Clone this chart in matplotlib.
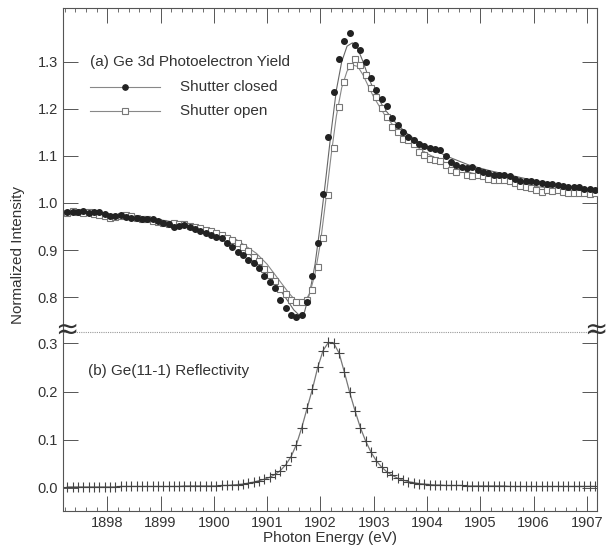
import numpy as np
import matplotlib
matplotlib.use('Agg')
import matplotlib.pyplot as plt
from matplotlib.lines import Line2D

plt.rcParams['font.family'] = ['Liberation Sans', 'DejaVu Sans']

# photon energy scan grid (eV), 0.1 eV steps
energy = np.round(1897.25 + 0.1 * np.arange(100), 2)

# (a) Ge 3d photoelectron yield, shutter closed (filled circles)
closed = [0.980, 0.981, 0.980, 0.982, 0.979, 0.981, 0.980, 0.977, 0.972, 0.973,
          0.974, 0.970, 0.969, 0.968, 0.967, 0.966, 0.965, 0.962, 0.958, 0.955,
          0.950, 0.951, 0.953, 0.949, 0.945, 0.941, 0.936, 0.932, 0.928, 0.925,
          0.915, 0.906, 0.896, 0.889, 0.879, 0.872, 0.861, 0.846, 0.832, 0.820,
          0.795, 0.778, 0.763, 0.758, 0.762, 0.790, 0.845, 0.915, 1.020, 1.140,
          1.235, 1.305, 1.345, 1.360, 1.335, 1.325, 1.300, 1.265, 1.240, 1.220,
          1.205, 1.180, 1.165, 1.150, 1.140, 1.133, 1.125, 1.120, 1.117, 1.115,
          1.112, 1.100, 1.088, 1.080, 1.076, 1.074, 1.076, 1.070, 1.066, 1.063,
          1.060, 1.059, 1.059, 1.058, 1.050, 1.046, 1.047, 1.046, 1.044, 1.042,
          1.041, 1.040, 1.038, 1.036, 1.035, 1.034, 1.033, 1.030, 1.029, 1.028]

# (a) shutter open (open squares)
opened = [0.979, 0.982, 0.981, 0.978, 0.980, 0.977, 0.975, 0.972, 0.968, 0.970,
          0.972, 0.975, 0.972, 0.969, 0.967, 0.966, 0.962, 0.959, 0.957, 0.956,
          0.957, 0.956, 0.955, 0.952, 0.950, 0.946, 0.942, 0.940, 0.937, 0.932,
          0.926, 0.922, 0.915, 0.907, 0.897, 0.886, 0.876, 0.860, 0.848, 0.835,
          0.817, 0.807, 0.795, 0.790, 0.789, 0.795, 0.815, 0.865, 0.925, 1.018,
          1.116, 1.203, 1.257, 1.291, 1.306, 1.293, 1.272, 1.244, 1.225, 1.201,
          1.183, 1.161, 1.151, 1.135, 1.133, 1.125, 1.108, 1.101, 1.093, 1.091,
          1.089, 1.080, 1.070, 1.066, 1.072, 1.059, 1.058, 1.060, 1.058, 1.050,
          1.048, 1.049, 1.048, 1.046, 1.042, 1.036, 1.033, 1.031, 1.028, 1.023,
          1.027, 1.026, 1.027, 1.024, 1.021, 1.022, 1.021, 1.021, 1.020, 1.021]

# smooth fit curves through the yield data
fit_energy = [1897.2, 1897.8, 1898.4, 1899.0, 1899.5, 1900.0, 1900.4, 1900.8, 1901.0, 1901.2,
              1901.4, 1901.5, 1901.6, 1901.7, 1901.8, 1901.9, 1902.0, 1902.1, 1902.2, 1902.3,
              1902.4, 1902.5, 1902.6, 1902.7, 1902.8, 1902.9, 1903.0, 1903.2, 1903.4, 1903.6,
              1903.8, 1904.0, 1904.4, 1904.8, 1905.2, 1905.6, 1906.0, 1906.5, 1907.2]
fit_closed = [0.981, 0.978, 0.972, 0.964, 0.955, 0.935, 0.915, 0.880, 0.855, 0.823,
              0.790, 0.773, 0.762, 0.768, 0.810, 0.870, 0.955, 1.050, 1.150, 1.240,
              1.300, 1.333, 1.340, 1.328, 1.300, 1.268, 1.240, 1.200, 1.172, 1.150,
              1.133, 1.120, 1.098, 1.080, 1.068, 1.058, 1.048, 1.038, 1.026]
fit_open = [0.980, 0.977, 0.972, 0.963, 0.955, 0.940, 0.924, 0.893, 0.870, 0.840,
            0.810, 0.797, 0.789, 0.790, 0.808, 0.850, 0.915, 1.005, 1.100, 1.185,
            1.245, 1.280, 1.293, 1.290, 1.272, 1.248, 1.225, 1.188, 1.160, 1.138,
            1.120, 1.105, 1.082, 1.065, 1.053, 1.044, 1.036, 1.028, 1.020]

# (b) Ge(11-1) reflectivity
reflect = [0.002, 0.002, 0.002, 0.002, 0.002, 0.002, 0.002, 0.002, 0.002, 0.002,
           0.003, 0.003, 0.003, 0.003, 0.003, 0.003, 0.003, 0.003, 0.003, 0.003,
           0.003, 0.003, 0.004, 0.004, 0.004, 0.004, 0.004, 0.004, 0.004, 0.005,
           0.005, 0.006, 0.007, 0.008, 0.010, 0.012, 0.015, 0.018, 0.022, 0.028,
           0.036, 0.048, 0.065, 0.090, 0.125, 0.165, 0.205, 0.250, 0.285, 0.302,
           0.300, 0.280, 0.240, 0.198, 0.160, 0.125, 0.097, 0.074, 0.056, 0.043,
           0.033, 0.026, 0.020, 0.016, 0.013, 0.011, 0.009, 0.008, 0.007, 0.006,
           0.006, 0.005, 0.005, 0.005, 0.005, 0.004, 0.004, 0.004, 0.004, 0.004,
           0.004, 0.004, 0.004, 0.003, 0.003, 0.003, 0.003, 0.003, 0.003, 0.003,
           0.003, 0.003, 0.003, 0.003, 0.003, 0.003, 0.003, 0.003, 0.003, 0.003]

x_ticks = [1898, 1899, 1900, 1901, 1902, 1903, 1904, 1905, 1906, 1907]
top_yticks = [0.8, 0.9, 1.0, 1.1, 1.2, 1.3]
bot_yticks = [0.0, 0.1, 0.2, 0.3]
series_labels = ['Shutter closed', 'Shutter open']

txt = '#333333'
edge = '#555555'

fig = plt.figure(figsize=(6.08, 5.54), dpi=100)
ax1 = fig.add_axes([0.1036, 0.4007, 0.8783, 0.5848])
ax2 = fig.add_axes([0.1036, 0.0776, 0.8783, 0.3231])

for ax in (ax1, ax2):
    ax.set_xlim(1897.17, 1907.19)
    ax.set_xticks(x_ticks)
    ax.set_xticks(np.arange(1897.2, 1907.2, 0.2), minor=True)
    for s in ax.spines.values():
        s.set_color(edge)
        s.set_linewidth(0.8)
    ax.tick_params(which='major', direction='in', length=11, width=0.7, color=edge,
                   labelsize=10.5, labelcolor=txt, right=True)
    ax.tick_params(which='minor', direction='in', length=3, width=0.6, color=edge)
    ax.tick_params(axis='y', which='minor', left=False, right=False)

# --- top panel ---
ax1.plot(fit_energy, fit_closed, color='#666666', lw=0.8, zorder=2)
ax1.plot(fit_energy, fit_open, color='#888888', lw=0.8, zorder=2)
ax1.plot(energy, opened, ls='none', marker='s', ms=5, mfc='white', mec='#777777',
         mew=0.8, zorder=3)
ax1.plot(energy, closed, ls='none', marker='o', ms=4, mfc='#222222', mec='#222222',
         zorder=4)
ax1.set_ylim(0.726, 1.414)
ax1.set_yticks(top_yticks)
ax1.set_yticklabels(['%.1f' % v for v in top_yticks])
ax1.spines['bottom'].set_visible(False)
ax1.tick_params(axis='x', which='both', bottom=False, labelbottom=False, top=True)

ax1.text(0.0506, 0.833, '(a) Ge 3d Photoelectron Yield', fontsize=11, color=txt,
         va='center', ha='left', transform=ax1.transAxes)

# hand-drawn legend (long line, marker in the middle)
for yl, mk, mfc, mec, lab in [(0.756, 'o', '#222222', '#222222', series_labels[0]),
                              (0.682, 's', 'white', '#777777', series_labels[1])]:
    ax1.plot([0.0506, 0.1816], [yl, yl], color='#888888', lw=0.8, transform=ax1.transAxes)
    ax1.plot([0.1161], [yl], marker=mk, ms=4 if mk == 'o' else 5, mfc=mfc, mec=mec,
             mew=0.8, transform=ax1.transAxes)
    ax1.text(0.219, yl, lab, fontsize=11, color=txt, va='center', ha='left',
             transform=ax1.transAxes)

# --- bottom panel ---
ax2.plot(energy, reflect, color='#777777', lw=0.9, marker='+', ms=7, mec='#444444',
         mew=0.8)
ax2.set_ylim(-0.048, 0.3235)
ax2.set_yticks(bot_yticks)
ax2.set_yticklabels(['%.1f' % v for v in bot_yticks])
ax2.spines['top'].set_visible(False)
ax2.tick_params(axis='x', which='both', top=False)
ax2.text(0.0468, 0.78, '(b) Ge(11-1) Reflectivity', fontsize=11, color=txt,
         va='center', ha='left', transform=ax2.transAxes)

# axis break: dotted line plus wavy marks on both spines
fig.add_artist(Line2D([0.1036, 0.982], [0.4007, 0.4007], color='#999999', lw=0.8,
                      ls=(0, (1, 1)), transform=fig.transFigure))
for xb in (0.109, 0.979):
    fig.text(xb, 0.4045, '\u2248', fontsize=20, color='#333333', ha='center', va='center',
             family='DejaVu Sans')

fig.text(0.5428, 0.016, 'Photon Energy (eV)', fontsize=11, color=txt, ha='center', va='bottom')
fig.text(0.03, 0.54, 'Normalized Intensity', fontsize=11, color=txt, rotation=90,
         ha='center', va='center')

fig.savefig('out.png', dpi=100, facecolor='white')
